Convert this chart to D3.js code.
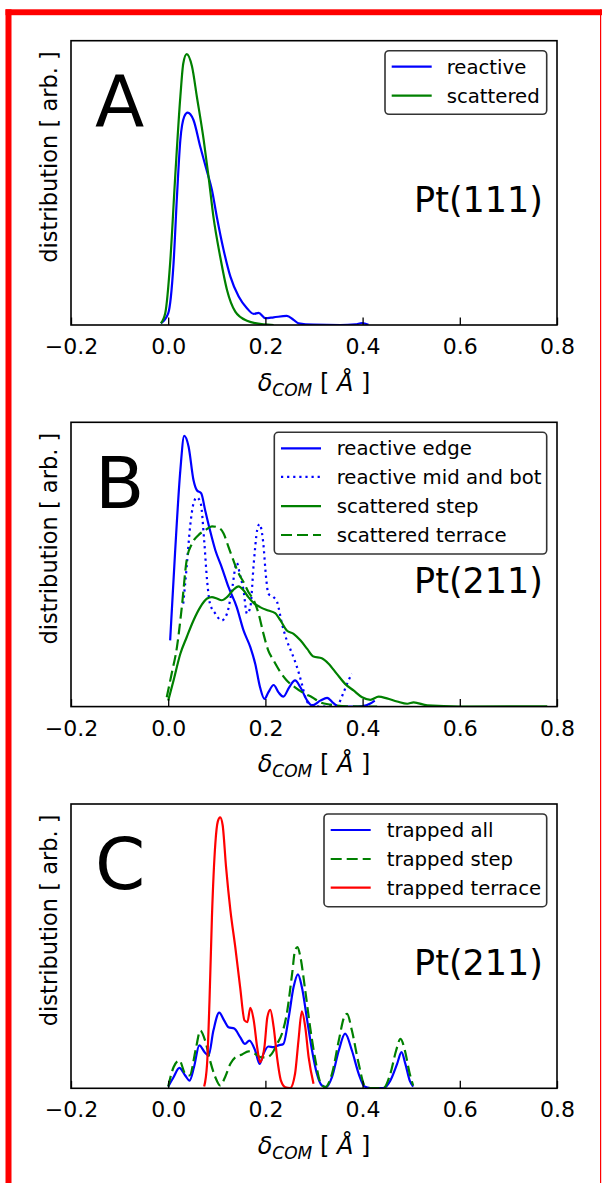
<!DOCTYPE html>
<html>
<head>
<meta charset="utf-8">
<script src="https://cdn.jsdelivr.net/npm/d3@7"></script>
<style>
  html, body { margin: 0; padding: 0; background: #fff; }
  svg { display: block; font-family: "DejaVu Sans", sans-serif; }
</style>
</head>
<body>
<svg id="chart" width="602" height="1183"></svg>
<script>
// ---------- data (x in Å, y in arbitrary distribution units) ----------
const xTicks = [-0.2, 0.0, 0.2, 0.4, 0.6, 0.8];
const xTickLabels = ["\u22120.2", "0.0", "0.2", "0.4", "0.6", "0.8"];
const panelLetters = ["A", "B", "C"];
const surfaceLabels = ["Pt(111)", "Pt(211)", "Pt(211)"];

// Panel A
const aReactive = [[-0.015,0.06],[0.000,0.41],[0.011,2.17],[0.018,4.51],[0.025,6.51],[0.033,7.33],[0.040,7.47],[0.052,7.21],[0.066,6.27],[0.080,5.39],[0.090,4.75],[0.100,3.81],[0.114,2.64],[0.128,1.70],[0.145,1.00],[0.162,0.59],[0.176,0.39],[0.186,0.43],[0.200,0.24],[0.217,0.27],[0.244,0.32],[0.258,0.18],[0.268,0.06],[0.299,0.01],[0.354,0.00],[0.385,0.02],[0.399,0.07],[0.412,0.01]];
const aScattered = [[-0.015,0.06],[-0.006,0.42],[0.004,2.18],[0.014,5.10],[0.025,8.03],[0.031,9.20],[0.038,9.53],[0.049,9.09],[0.059,8.03],[0.073,6.51],[0.083,5.22],[0.093,3.81],[0.107,2.40],[0.121,1.23],[0.138,0.47],[0.162,0.15],[0.196,0.02],[0.217,0.00]];

// Panel B
const bReactiveEdge = [[0.004,2.33],[0.014,5.38],[0.025,8.32],[0.033,9.52],[0.042,9.14],[0.052,7.97],[0.059,7.61],[0.068,7.50],[0.076,6.91],[0.086,6.20],[0.097,5.50],[0.110,4.91],[0.124,4.21],[0.141,3.50],[0.155,2.68],[0.169,2.09],[0.179,1.51],[0.189,0.68],[0.198,0.27],[0.206,0.50],[0.217,0.76],[0.227,0.50],[0.237,0.35],[0.249,0.68],[0.261,0.92],[0.272,0.68],[0.286,0.21],[0.296,0.04],[0.313,0.21],[0.327,0.31],[0.340,0.12],[0.351,0.00],[0.380,0.00],[0.400,0.02],[0.415,0.10],[0.425,0.21]];
const bReactiveMid = [[0.031,3.62],[0.038,4.91],[0.045,6.32],[0.052,7.14],[0.059,7.36],[0.067,7.14],[0.074,5.85],[0.080,4.44],[0.086,3.62],[0.097,3.27],[0.110,3.03],[0.121,3.27],[0.131,4.09],[0.141,5.06],[0.148,4.62],[0.155,4.09],[0.162,3.27],[0.169,3.50],[0.176,5.03],[0.183,6.20],[0.188,6.42],[0.195,5.85],[0.202,4.44],[0.206,3.97],[0.217,3.85],[0.224,3.68],[0.234,2.92],[0.244,2.33],[0.255,1.86],[0.265,1.39],[0.275,0.80],[0.282,0.33],[0.289,0.10],[0.313,0.00],[0.347,0.04],[0.361,0.50],[0.371,0.92],[0.378,1.15]];
const bScatteredStep = [[0.000,0.21],[0.011,0.92],[0.025,1.86],[0.038,2.44],[0.052,3.03],[0.066,3.50],[0.080,3.80],[0.090,3.85],[0.100,3.80],[0.110,3.74],[0.121,3.85],[0.133,4.09],[0.145,4.23],[0.155,4.09],[0.165,3.85],[0.176,3.64],[0.189,3.50],[0.206,3.38],[0.220,3.29],[0.231,3.03],[0.244,2.68],[0.258,2.56],[0.272,2.33],[0.286,2.03],[0.299,1.76],[0.316,1.70],[0.330,1.51],[0.347,1.15],[0.364,0.80],[0.382,0.56],[0.399,0.33],[0.416,0.24],[0.433,0.35],[0.450,0.29],[0.471,0.18],[0.492,0.10],[0.505,0.15],[0.533,0.04],[0.601,0.00],[0.780,0.01]];
const bScatteredTerrace = [[-0.003,0.33],[0.007,1.15],[0.018,2.09],[0.028,3.50],[0.038,5.15],[0.049,5.73],[0.062,6.03],[0.076,6.20],[0.090,6.34],[0.103,6.30],[0.114,6.09],[0.124,5.62],[0.134,5.15],[0.145,4.68],[0.155,4.38],[0.165,4.03],[0.176,3.74],[0.186,3.27],[0.196,2.56],[0.206,1.97],[0.217,1.62],[0.231,1.21],[0.244,0.92],[0.261,0.68],[0.279,0.47],[0.296,0.33],[0.313,0.15],[0.334,0.07],[0.368,0.01],[0.430,0.00]];

// Panel C
const cTrappedAll = [[0.000,0.06],[0.011,0.39],[0.023,0.72],[0.035,0.45],[0.044,0.27],[0.053,0.74],[0.064,1.51],[0.075,1.27],[0.083,1.15],[0.093,2.03],[0.105,2.66],[0.115,2.39],[0.124,2.15],[0.136,2.10],[0.148,1.80],[0.158,1.56],[0.167,1.68],[0.179,1.33],[0.188,0.86],[0.196,1.21],[0.206,1.47],[0.217,1.45],[0.227,1.51],[0.237,1.56],[0.248,2.50],[0.258,3.56],[0.267,4.01],[0.275,3.56],[0.286,2.39],[0.296,1.33],[0.306,0.51],[0.316,0.10],[0.325,0.04],[0.337,0.39],[0.351,1.33],[0.364,1.92],[0.378,1.33],[0.392,0.51],[0.404,0.06],[0.416,0.01],[0.443,0.01],[0.457,0.27],[0.471,0.86],[0.480,1.27],[0.488,0.86],[0.497,0.27],[0.504,0.06]];
const cTrappedStep = [[0.000,0.06],[0.011,0.74],[0.023,0.98],[0.035,0.51],[0.044,0.45],[0.057,1.40],[0.066,2.03],[0.076,1.68],[0.086,0.98],[0.097,0.39],[0.107,0.10],[0.117,0.39],[0.128,0.86],[0.138,1.09],[0.152,1.19],[0.165,1.30],[0.179,1.21],[0.191,1.09],[0.203,1.09],[0.213,1.21],[0.224,1.56],[0.234,1.92],[0.244,2.62],[0.255,4.03],[0.261,4.85],[0.266,4.97],[0.272,4.62],[0.282,3.44],[0.292,2.15],[0.303,0.98],[0.313,0.21],[0.323,0.04],[0.337,0.51],[0.351,1.68],[0.362,2.50],[0.368,2.62],[0.378,2.03],[0.392,0.86],[0.404,0.10],[0.416,0.01],[0.443,0.01],[0.457,0.51],[0.469,1.33],[0.478,1.74],[0.487,1.33],[0.497,0.51],[0.504,0.10]];
const cTrappedTerrace = [[0.074,0.06],[0.080,0.86],[0.085,3.09],[0.090,6.03],[0.097,8.61],[0.102,9.38],[0.107,9.53],[0.112,9.26],[0.119,7.79],[0.128,6.26],[0.138,4.97],[0.148,3.56],[0.157,2.39],[0.163,2.33],[0.169,2.83],[0.176,2.39],[0.183,1.45],[0.189,0.92],[0.198,1.45],[0.204,2.50],[0.210,2.76],[0.217,2.15],[0.224,1.09],[0.232,0.27],[0.241,0.04],[0.251,0.01],[0.261,0.51],[0.268,1.68],[0.275,2.71],[0.282,2.15],[0.289,1.09],[0.299,0.16]];

// ---------- layout ----------
const W = 602, H = 1183;
const left = 71, right = 557;
const panelTops = [40.7, 422.3, 804];
const panelH = 284.3;
const colors = { blue: "#0000ff", green: "#008000", red: "#ff0000" };
const dashes = { solid: null, dotted: "2.2,3.9", dashed: "11,5" };

const panels = [
  { series: [
      { name: "reactive", data: aReactive, color: colors.blue, dash: "solid" },
      { name: "scattered", data: aScattered, color: colors.green, dash: "solid" } ],
    legend: { x: 385, y: 50.7, w: 161.7, h: 63.6, handleX: 391.7, textX: 446.7, rows: [66.7, 95.7] } },
  { series: [
      { name: "reactive edge", data: bReactiveEdge, color: colors.blue, dash: "solid" },
      { name: "reactive mid and bot", data: bReactiveMid, color: colors.blue, dash: "dotted" },
      { name: "scattered step", data: bScatteredStep, color: colors.green, dash: "solid" },
      { name: "scattered terrace", data: bScatteredTerrace, color: colors.green, dash: "dashed" } ],
    legend: { x: 274.3, y: 432.3, w: 272.4, h: 121.7, handleX: 281, textX: 336.7, rows: [448.3, 476.9, 506.2, 535] } },
  { series: [
      { name: "trapped all", data: cTrappedAll, color: colors.blue, dash: "solid" },
      { name: "trapped step", data: cTrappedStep, color: colors.green, dash: "dashed" },
      { name: "trapped terrace", data: cTrappedTerrace, color: colors.red, dash: "solid" } ],
    legend: { x: 324, y: 814, w: 222.7, h: 92.7, handleX: 330.7, textX: 386.7, rows: [830, 859, 887.7] } }
];

const svg = d3.select("#chart");

// red frame around the figure
svg.append("rect").attr("x", 5.5).attr("y", 9.3).attr("width", 596.5).attr("height", 5.9).attr("fill", "#ff0000");
svg.append("rect").attr("x", 5.5).attr("y", 9.3).attr("width", 6).attr("height", H - 9.3).attr("fill", "#ff0000");
svg.append("rect").attr("x", 600).attr("y", 9.3).attr("width", 1.2).attr("height", H - 9.3).attr("fill", "#ff0000");

const x = d3.scaleLinear().domain([-0.2, 0.8]).range([left, right]);

panels.forEach((p, i) => {
  const top = panelTops[i], bottom = top + panelH;
  const y = d3.scaleLinear().domain([0, 10]).range([bottom, top]);
  const g = svg.append("g");

  const clipId = "clip" + i;
  g.append("clipPath").attr("id", clipId).append("rect")
    .attr("x", left).attr("y", top).attr("width", right - left).attr("height", panelH);

  const line = d3.line().x(d => x(d[0])).y(d => y(d[1])).curve(d3.curveMonotoneX);

  p.series.forEach(s => {
    g.append("path")
      .attr("d", line(s.data))
      .attr("fill", "none")
      .attr("stroke", s.color)
      .attr("stroke-width", 2.2)
      .attr("stroke-dasharray", dashes[s.dash])
      .attr("clip-path", `url(#${clipId})`);
  });

  // x axis with inward ticks
  const axis = d3.axisBottom(x).tickValues(xTicks)
    .tickFormat((d, k) => xTickLabels[k]).tickSizeInner(-7.5).tickSizeOuter(0).tickPadding(14);
  const ax = g.append("g").attr("transform", `translate(0,${bottom})`).call(axis);
  ax.select(".domain").remove();
  ax.selectAll(".tick line").attr("stroke", "#000").attr("stroke-width", 1.3);
  ax.selectAll(".tick text")
    .attr("font-size", 22).attr("fill", "#000")
    .attr("font-family", "DejaVu Sans, sans-serif")
    .attr("dy", null).attr("y", 29);

  // frame
  g.append("rect").attr("x", left).attr("y", top).attr("width", right - left).attr("height", panelH)
    .attr("fill", "none").attr("stroke", "#000").attr("stroke-width", 1.6);

  // x label
  const xl = g.append("text").attr("x", (left + right) / 2).attr("y", bottom + 65.5)
    .attr("text-anchor", "middle").attr("font-size", 24).attr("fill", "#000");
  xl.append("tspan").attr("font-style", "italic").text("\u03b4");
  xl.append("tspan").attr("font-style", "italic").attr("font-size", 17).attr("dy", 5).text("COM");
  xl.append("tspan").attr("dy", -5).text(" [ ");
  xl.append("tspan").attr("font-style", "italic").text("\u00c5");
  xl.append("tspan").text(" ]");

  // y label
  g.append("text")
    .attr("transform", `translate(57,${top + 116.3}) rotate(-90)`)
    .attr("text-anchor", "middle").attr("font-size", 22.5).attr("fill", "#000")
    .text("distribution [ arb. ]");

  // panel letter
  g.append("text").attr("x", 95).attr("y", top + 85.4)
    .attr("font-size", 72).attr("fill", "#000").text(panelLetters[i]);

  // surface label
  g.append("text").attr("x", 543).attr("y", top + 171)
    .attr("text-anchor", "end").attr("font-size", 35).attr("fill", "#000").text(surfaceLabels[i]);

  // legend
  const L = p.legend;
  g.append("rect").attr("x", L.x).attr("y", L.y).attr("width", L.w).attr("height", L.h)
    .attr("rx", 4).attr("ry", 4).attr("fill", "#fff").attr("stroke", "#333").attr("stroke-width", 1.6);
  p.series.forEach((s, k) => {
    const ry = L.rows[k];
    g.append("line").attr("x1", L.handleX).attr("x2", L.handleX + 40).attr("y1", ry).attr("y2", ry)
      .attr("stroke", s.color).attr("stroke-width", 2.2).attr("stroke-dasharray", dashes[s.dash]);
    g.append("text").attr("x", L.textX).attr("y", ry + 7)
      .attr("font-size", 19.7).attr("fill", "#000").text(s.name);
  });
});
</script>
</body>
</html>
